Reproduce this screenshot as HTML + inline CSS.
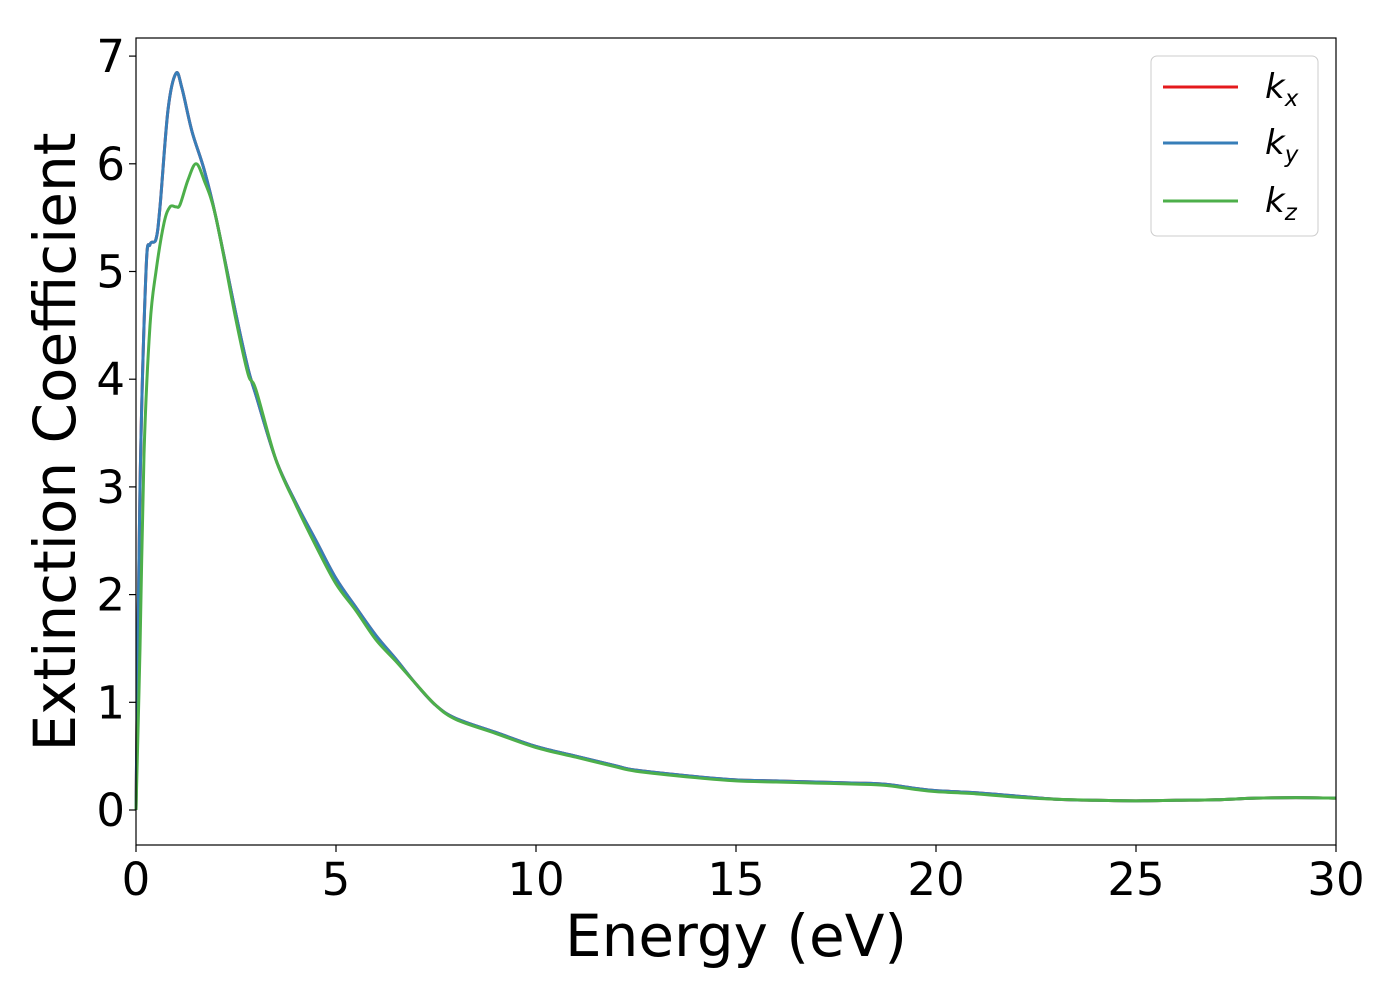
<!DOCTYPE html>
<html><head><meta charset="utf-8"><style>body{margin:0;background:#fff}svg{font-family:"DejaVu Sans","Liberation Sans",sans-serif}</style></head>
<body>
<svg id="c" width="1400" height="1000"></svg>
<script>
const xTicks=[0,5,10,15,20,25,30];
const yTicks=[0,1,2,3,4,5,6,7];
const energy=[0,0.1,0.25,0.35,0.5,0.6,0.8,1.0,1.15,1.4,1.7,2.0,2.5,2.8,3,3.5,4,4.5,5,5.5,6,6.5,7,7.5,8,9,10,11,12,12.5,14,15,16,17,18,18.7,19.5,20,21,22,23,24,25,26,27,28,29,30];
const kx=[0,3,5.0,5.25,5.3,5.6,6.5,6.84,6.7,6.3,5.95,5.5,4.6,4.1,3.85,3.25,2.85,2.5,2.15,1.88,1.62,1.4,1.17,0.97,0.85,0.72,0.59,0.5,0.41,0.37,0.31,0.28,0.27,0.26,0.25,0.24,0.2,0.18,0.16,0.13,0.1,0.09,0.085,0.09,0.095,0.11,0.115,0.11];
const ky=kx.slice();
const energyZ=[0,0.1,0.2,0.35,0.5,0.7,0.85,1.0,1.1,1.3,1.5,1.7,2.0,2.5,2.8,3.0,3.5,4,4.5,5,5.5,6,6.5,7,7.5,8,9,10,11,12,12.5,14,15,16,17,18,18.7,19.5,20,21,22,23,24,25,26,27,28,29,30];
const kz=[0,1.5,3.3,4.5,5.0,5.45,5.6,5.6,5.62,5.85,6.0,5.85,5.5,4.55,4.05,3.9,3.25,2.83,2.45,2.1,1.85,1.58,1.38,1.17,0.97,0.84,0.71,0.58,0.49,0.4,0.36,0.3,0.27,0.26,0.25,0.24,0.23,0.19,0.17,0.15,0.12,0.1,0.09,0.085,0.09,0.095,0.11,0.115,0.11];
const L=136,R=1336,T=38,B=845;
const X=e=>L+(e-0)/30*(R-L);
const Y=v=>810-v*107.7;
const svg=document.getElementById('c');const NS='http://www.w3.org/2000/svg';
function mk(t,a,p){const e=document.createElementNS(NS,t);for(const k in a)e.setAttribute(k,a[k]);(p||svg).appendChild(e);return e;}
function smooth(xs,ys){let p=xs.map((x,i)=>[X(x),Y(ys[i])]);let d='M'+p[0][0]+','+p[0][1];for(let i=0;i<p.length-1;i++){const p0=p[Math.max(0,i-1)],p1=p[i],p2=p[i+1],p3=p[Math.min(p.length-1,i+2)];d+=` C${p1[0]+(p2[0]-p0[0])/6},${p1[1]+(p2[1]-p0[1])/6} ${p2[0]-(p3[0]-p1[0])/6},${p2[1]-(p3[1]-p1[1])/6} ${p2[0]},${p2[1]}`;}return d;}
const series=[[energy,kx,'#e41a1c','series-kx'],[energy,ky,'#377eb8','series-ky'],[energyZ,kz,'#4daf4a','series-kz']];
series.forEach(s=>{const p=mk('path',{d:smooth(s[0],s[1]),fill:'none',stroke:s[2],'stroke-width':3});});
const fr=mk('rect',{x:L,y:T,width:R-L,height:B-T,fill:'none',stroke:'#000','stroke-width':1.2});
xTicks.forEach(t=>{mk('line',{x1:X(t),x2:X(t),y1:B,y2:B+7,stroke:'#000','stroke-width':1.2});const tx=mk('text',{x:X(t),y:B+50,'font-size':45,'text-anchor':'middle'});tx.textContent=t;});
yTicks.forEach(t=>{mk('line',{x1:L-7,x2:L,y1:Y(t),y2:Y(t),stroke:'#000','stroke-width':1.2});const tx=mk('text',{x:L-11,y:Y(t)+16,'font-size':45,'text-anchor':'end'});tx.textContent=t;});
</script>
<svg width="1400" height="1000" style="position:absolute;left:0;top:0" font-family="DejaVu Sans, Liberation Sans, sans-serif">
<text x="736" y="956" font-size="58" text-anchor="middle">Energy (eV)</text>
<text transform="translate(75,442) rotate(-90)" font-size="58" text-anchor="middle">Extinction Coefficient</text>
<g>
<rect x="1151" y="56" width="167" height="180" rx="6" fill="#fff" fill-opacity="0.8" stroke="#ccc"/>
<line x1="1163" x2="1238" y1="87" y2="87" stroke="#e41a1c" stroke-width="3"/>
<text x="1265" y="98" font-size="34" font-style="italic">k<tspan font-size="23" dy="8">x</tspan></text>
<line x1="1163" x2="1238" y1="143" y2="143" stroke="#377eb8" stroke-width="3"/>
<text x="1265" y="154" font-size="34" font-style="italic">k<tspan font-size="23" dy="8">y</tspan></text>
<line x1="1163" x2="1238" y1="201" y2="201" stroke="#4daf4a" stroke-width="3"/>
<text x="1265" y="212" font-size="34" font-style="italic">k<tspan font-size="23" dy="8">z</tspan></text>
</g>
</svg>
</body></html>
